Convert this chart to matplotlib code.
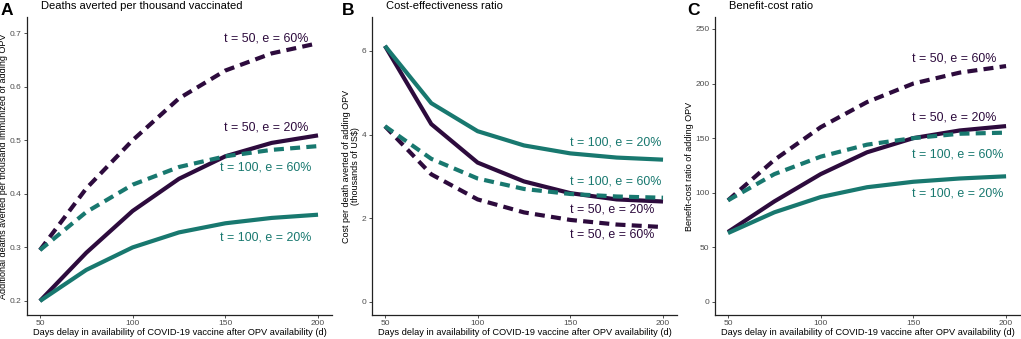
import matplotlib.pyplot as plt

plt.rcParams['font.family'] = ['Liberation Sans', 'DejaVu Sans']

DARK = '#2d0b3d'
TEAL = '#18786f'

days = [50, 75, 100, 125, 150, 175, 200]

# panel A: deaths averted per thousand vaccinated
deaths_t50_e60 = [0.295, 0.41, 0.50, 0.578, 0.630, 0.662, 0.681]
deaths_t50_e20 = [0.20, 0.29, 0.368, 0.428, 0.470, 0.495, 0.509]
deaths_t100_e60 = [0.295, 0.366, 0.417, 0.450, 0.470, 0.482, 0.489]
deaths_t100_e20 = [0.20, 0.258, 0.300, 0.328, 0.345, 0.355, 0.361]

# panel B: cost per death averted (thousands of US$)
cer_t100_e20 = [6.12, 4.75, 4.08, 3.74, 3.55, 3.45, 3.40]
cer_t50_e20 = [6.12, 4.25, 3.33, 2.88, 2.60, 2.45, 2.40]
cer_t100_e60 = [4.20, 3.42, 2.95, 2.70, 2.58, 2.52, 2.49]
cer_t50_e60 = [4.20, 3.05, 2.45, 2.14, 1.96, 1.85, 1.79]

# panel C: benefit-cost ratio
bcr_t50_e60 = [93, 130, 160, 183, 200, 210, 216]
bcr_t50_e20 = [64, 92, 117, 137, 150, 157, 161]
bcr_t100_e60 = [93, 117, 133, 144, 150, 154, 155]
bcr_t100_e20 = [63, 82, 96, 105, 110, 113, 115]

labels = ['t = 50, e = 60%', 't = 50, e = 20%', 't = 100, e = 60%', 't = 100, e = 20%']
colors = [DARK, DARK, TEAL, TEAL]
styles = ['dashed', 'solid', 'dashed', 'solid']

xlabel = 'Days delay in availability of COVID-19 vaccine after OPV availability (d)'

fig = plt.figure(figsize=(10.21, 3.39), dpi=100)
bottom, height = 0.071, 0.879
axA = fig.add_axes([0.0264, bottom, 0.2987, height])
axB = fig.add_axes([0.3643, bottom, 0.2987, height])
axC = fig.add_axes([0.7003, bottom, 0.2987, height])

panels = [
    (axA, [deaths_t50_e60, deaths_t50_e20, deaths_t100_e60, deaths_t100_e20],
     'A', 'Deaths averted per thousand vaccinated',
     'Additional deaths averted per thousand immunized of adding OPV',
     (0.174, 0.730), [0.2, 0.3, 0.4, 0.5, 0.6, 0.7],
     ['0.2', '0.3', '0.4', '0.5', '0.6', '0.7'],
     [(172, 0.689), (172, 0.523), (172, 0.450), (172, 0.319)], 'center'),
    (axB, [cer_t50_e60, cer_t50_e20, cer_t100_e60, cer_t100_e20],
     'B', 'Cost-effectiveness ratio',
     'Cost per death averted of adding OPV\n(thousands of US$)',
     (-0.31, 6.81), [0, 2, 4, 6], ['0', '2', '4', '6'],
     [(150, 1.60), (150, 2.20), (150, 2.89), (150, 3.80)], 'left'),
    (axC, [bcr_t50_e60, bcr_t50_e20, bcr_t100_e60, bcr_t100_e20],
     'C', 'Benefit-cost ratio',
     'Benefit-cost ratio of adding OPV',
     (-12, 261), [0, 50, 100, 150, 200, 250],
     ['0', '50', '100', '150', '200', '250'],
     [(149, 223), (149, 169), (149, 135), (149, 99)], 'left'),
]

for ax, series, letter, title, ylab, ylim, yticks, yticklabels, lab_pos, ha in panels:
    for vals, col, ls, lab, pos in zip(series, colors, styles, labels, lab_pos):
        if ls == 'dashed':
            ax.plot(days, vals, color=col, lw=3.0, linestyle=(0, (2.4, 1.5)),
                    dash_capstyle='butt')
        else:
            ax.plot(days, vals, color=col, lw=3.0, solid_capstyle='butt')
        ax.text(pos[0], pos[1], lab, color=col, fontsize=8.9, ha=ha, va='center')

    ax.set_xlim(43, 207.5)
    ax.set_ylim(*ylim)
    ax.set_xticks([50, 100, 150, 200])
    ax.set_yticks(yticks)
    ax.set_yticklabels(yticklabels)
    ax.tick_params(labelsize=6, colors='#4d4d4d', length=2.5, width=0.6, pad=1.5)
    ax.tick_params(axis='both', color='#333333')
    for s in ['top', 'right']:
        ax.spines[s].set_visible(False)
    for s in ['left', 'bottom']:
        ax.spines[s].set_linewidth(0.9)
        ax.spines[s].set_color('#222222')
    ax.set_xlabel(xlabel, fontsize=6.7, labelpad=0.5)
    ax.set_ylabel(ylab, fontsize=6.5, labelpad=1, linespacing=1.0)
    ax.set_title(title, fontsize=8.0, loc='left', pad=6, x=0.045)

fig.text(0.001, 0.99, 'A', fontsize=12.5, fontweight='bold', va='top')
fig.text(0.3345, 0.99, 'B', fontsize=12.5, fontweight='bold', va='top')
fig.text(0.6735, 0.99, 'C', fontsize=12.5, fontweight='bold', va='top')

fig.savefig('out.png', dpi=100)
